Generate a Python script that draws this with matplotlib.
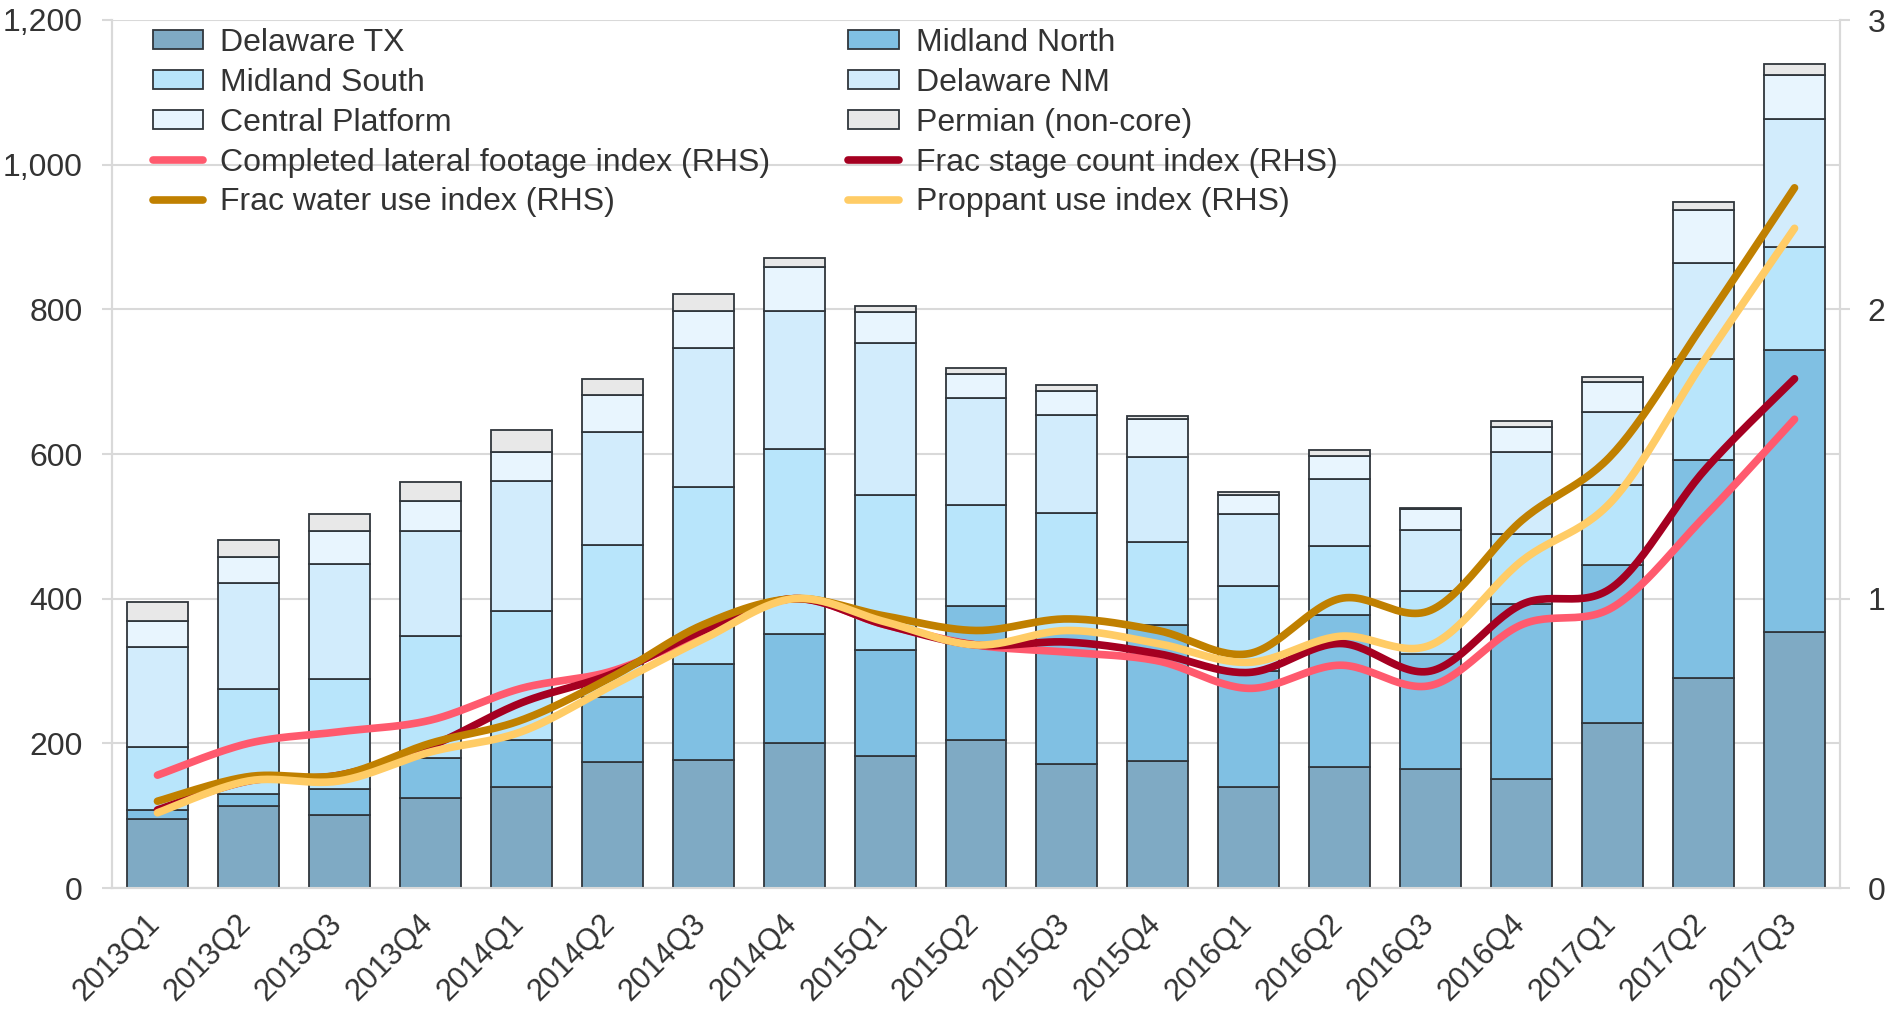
import numpy as np
import matplotlib
matplotlib.use("Agg")
import matplotlib.pyplot as plt
from matplotlib.patches import Patch
from matplotlib.lines import Line2D
from matplotlib.transforms import ScaledTranslation

plt.rcParams['font.family'] = ['Liberation Sans', 'DejaVu Sans']

quarters = ["2013Q1", "2013Q2", "2013Q3", "2013Q4", "2014Q1", "2014Q2", "2014Q3", "2014Q4",
            "2015Q1", "2015Q2", "2015Q3", "2015Q4", "2016Q1", "2016Q2", "2016Q3", "2016Q4",
            "2017Q1", "2017Q2", "2017Q3"]

delaware_tx = [95, 114, 101, 125, 140, 174, 177, 200, 182, 205, 172, 176, 140, 167, 165, 151, 228, 290, 354]
midland_north = [13, 16, 36, 55, 64, 90, 132, 151, 147, 185, 180, 187, 160, 210, 159, 241, 218, 302, 390]
midland_south = [87, 145, 152, 169, 179, 210, 246, 256, 214, 139, 166, 116, 117, 96, 86, 97, 111, 139, 142]
delaware_nm = [138, 147, 159, 145, 180, 156, 192, 191, 210, 148, 136, 117, 100, 93, 85, 114, 101, 133, 177]
central_platform = [36, 36, 46, 41, 40, 52, 51, 60, 43, 33, 33, 52, 27, 31, 29, 34, 41, 74, 61]
permian_noncore = [27, 23, 23, 26, 30, 21, 23, 13, 8, 9, 8, 4, 3, 8, 2, 8, 8, 10, 15]

lateral_idx = [0.39, 0.50, 0.54, 0.58, 0.69, 0.75, 0.88, 1.00, 0.91, 0.84, 0.815, 0.785, 0.69, 0.77, 0.70, 0.91, 0.97, 1.28, 1.62]
stage_idx = [0.27, 0.37, 0.39, 0.49, 0.64, 0.74, 0.89, 1.00, 0.91, 0.84, 0.85, 0.81, 0.745, 0.845, 0.75, 0.98, 1.04, 1.44, 1.76]
water_idx = [0.30, 0.385, 0.39, 0.50, 0.58, 0.73, 0.91, 1.00, 0.94, 0.89, 0.93, 0.89, 0.81, 1.00, 0.96, 1.27, 1.50, 1.95, 2.42]
proppant_idx = [0.26, 0.37, 0.37, 0.47, 0.54, 0.70, 0.86, 1.00, 0.92, 0.84, 0.89, 0.845, 0.78, 0.87, 0.84, 1.13, 1.34, 1.82, 2.28]

bar_names = ["Delaware TX", "Midland North", "Midland South", "Delaware NM", "Central Platform", "Permian (non-core)"]
bar_series = [delaware_tx, midland_north, midland_south, delaware_nm, central_platform, permian_noncore]
bar_colors = ["#7FAAC4", "#80C0E3", "#B8E5FB", "#D2ECFC", "#E8F5FE", "#E8E8E8"]

line_names = ["Completed lateral footage index (RHS)", "Frac stage count index (RHS)",
              "Frac water use index (RHS)", "Proppant use index (RHS)"]
line_series = [lateral_idx, stage_idx, water_idx, proppant_idx]
line_colors = ["#FF5A6E", "#A50021", "#C08000", "#FFCC66"]

TXT = "#333333"
GRID = "#D9D9D9"
FS = 23


def smooth(x, y, n=30):
    x = np.asarray(x, float)
    y = np.asarray(y, float)
    px = np.concatenate([[x[0]], x, [x[-1]]])
    py = np.concatenate([[y[0]], y, [y[-1]]])
    xs, ys = [], []
    t = np.linspace(0, 1, n)
    for i in range(len(x) - 1):
        p0 = np.array([px[i + 1], py[i + 1]])
        p3 = np.array([px[i + 2], py[i + 2]])
        c1 = p0 + (np.array([px[i + 2], py[i + 2]]) - np.array([px[i], py[i]])) / 6.0
        c2 = p3 - (np.array([px[i + 3], py[i + 3]]) - np.array([px[i + 1], py[i + 1]])) / 6.0
        b = ((1 - t) ** 3)[:, None] * p0 + (3 * (1 - t) ** 2 * t)[:, None] * c1 \
            + (3 * (1 - t) * t ** 2)[:, None] * c2 + (t ** 3)[:, None] * p3
        xs.append(b[:, 0])
        ys.append(b[:, 1])
    return np.concatenate(xs), np.concatenate(ys)


fig = plt.figure(figsize=(18.94, 10.17), dpi=100)
ax = fig.add_axes([112 / 1894, 1 - 888 / 1017, (1840 - 112) / 1894, (888 - 20) / 1017])
ax2 = ax.twinx()

x = np.arange(len(quarters))
bottom = np.zeros(len(quarters))
bar_handles = []
for name, vals, col in zip(bar_names, bar_series, bar_colors):
    ax.bar(x, vals, width=0.67, bottom=bottom, color=col, edgecolor="#30363C", linewidth=1.3, zorder=3)
    bottom += np.asarray(vals, float)
    bar_handles.append(Patch(facecolor=col, edgecolor="#30363C", linewidth=1.3, label=name))

line_handles = []
for name, vals, col in zip(line_names, line_series, line_colors):
    sx, sy = smooth(x, vals)
    ax2.plot(sx, sy, color=col, linewidth=5.5, solid_capstyle="round", solid_joinstyle="round", zorder=4)
    line_handles.append(Line2D([0], [0], color=col, linewidth=5.5, solid_capstyle="round", label=name))

ax.set_xlim(-0.5, 18.5)
ax.set_ylim(0, 1200)
ax2.set_ylim(0, 3)
ax.set_yticks(np.arange(0, 1201, 200))
ax.set_yticklabels([f"{v:,}" for v in range(0, 1201, 200)])
ax2.set_yticks([0, 1, 2, 3])
ax2.set_yticklabels(["0", "1", "2", "3"])

ax.grid(axis="y", color=GRID, linewidth=1.5, zorder=0)
ax.set_axisbelow(True)

for a in (ax, ax2):
    a.spines["top"].set_visible(False)
    for s in ("left", "right", "bottom"):
        a.spines[s].set_color(GRID)
        a.spines[s].set_linewidth(1.5)

ax.tick_params(axis="y", length=7, width=1.5, color=GRID, pad=14, labelsize=FS, labelcolor=TXT)
ax.tick_params(axis="x", length=0, pad=15, labelsize=22, labelcolor=TXT)
ax2.tick_params(axis="y", length=7, width=1.5, color=GRID, pad=13, labelsize=FS, labelcolor=TXT)

ax.set_xticks(x)
ax.set_xticklabels(quarters, rotation=45, ha="right", va="top", rotation_mode="default")
shift = ScaledTranslation(9 / 100, 0, fig.dpi_scale_trans)
for lbl in ax.get_xticklabels():
    lbl.set_transform(lbl.get_transform() + shift)

handles = [bar_handles[0], bar_handles[2], bar_handles[4], line_handles[0], line_handles[2],
           bar_handles[1], bar_handles[3], bar_handles[5], line_handles[1], line_handles[3]]
leg = ax2.legend(handles=handles, ncol=2, loc="upper left", bbox_to_anchor=(0.0237, 0.991),
                 frameon=False, fontsize=FS, borderpad=0, borderaxespad=0, labelspacing=0.31,
                 handlelength=1.57, handleheight=0.56, handletextpad=0.53, columnspacing=2.45)
for t in leg.get_texts():
    t.set_color(TXT)

fig.savefig("out.png", dpi=100)
